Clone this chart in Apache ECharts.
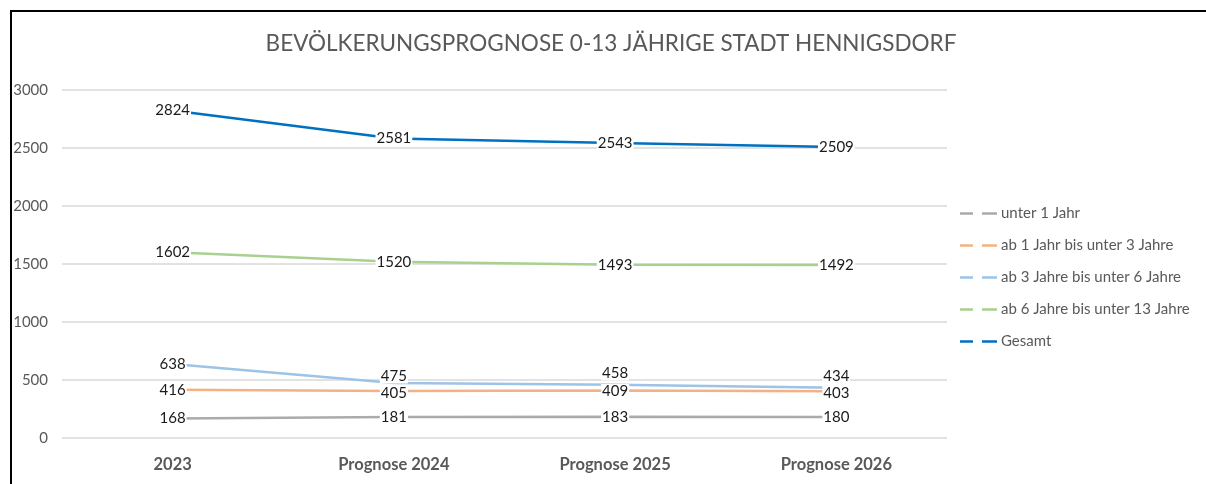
<!DOCTYPE html>
<html>
<head>
<meta charset="utf-8">
<script src="https://cdn.jsdelivr.net/npm/echarts@6/dist/echarts.min.js"></script>
<style>
  html, body { margin: 0; padding: 0; background: #fff; }
  #frame {
    position: absolute; left: 10px; top: 10px; width: 1196px; height: 474px;
    border-top: 2px solid #000; border-left: 2px solid #000; box-sizing: border-box;
  }
  #chart { position: absolute; left: 0; top: 0; width: 1206px; height: 484px; }
</style>
</head>
<body>
<div id="frame"></div>
<div id="chart"></div>
<script>
// chart data
const categories = ['2023', 'Prognose 2024', 'Prognose 2025', 'Prognose 2026'];
const seriesNames = [
  'unter 1 Jahr',
  'ab 1 Jahr bis unter 3 Jahre',
  'ab 3 Jahre bis unter 6 Jahre',
  'ab 6 Jahre bis unter 13 Jahre',
  'Gesamt'
];
const unter1 = [168, 181, 183, 180];
const ab1bis3 = [416, 405, 409, 403];
const ab3bis6 = [638, 475, 458, 434];
const ab6bis13 = [1602, 1520, 1493, 1492];
const gesamt = [2824, 2581, 2543, 2509];
const yTicks = [0, 500, 1000, 1500, 2000, 2500, 3000];

const colors = ['#ABABAB', '#F4B183', '#9DC3E6', '#A9D18E', '#0070C0'];
const FONT = 'Lato, "Open Sans", sans-serif';

// labels sit centred on the point; a few were nudged up/down by excel
function buildData(values, shifts) {
  return values.map((v, i) => ({
    value: v,
    label: { offset: [0, shifts ? shifts[i] : 0] }
  }));
}

function makeSeries(name, values, color, shifts) {
  return {
    name: name,
    type: 'line',
    data: buildData(values, shifts),
    symbol: 'circle',
    symbolSize: 1,
    itemStyle: { color: color },
    lineStyle: { color: color, width: 2.5 },
    emphasis: { disabled: true },
    label: {
      show: true,
      position: 'inside',
      color: '#1a1a1a',
      fontSize: 15,
      fontFamily: FONT,
      backgroundColor: '#fff',
      padding: [0, 1]
    }
  };
}

const chart = echarts.init(document.getElementById('chart'), null, { renderer: 'canvas' });

chart.setOption({
  animation: false,
  backgroundColor: 'transparent',
  title: {
    text: 'BEVÖLKERUNGSPROGNOSE 0-13 JÄHRIGE STADT HENNIGSDORF',
    left: 606,
    textAlign: 'center',
    top: 27,
    textStyle: { color: '#595959', fontSize: 22.5, fontWeight: 'normal', fontFamily: FONT }
  },
  legend: {
    orient: 'vertical',
    left: 955,
    top: 201,
    itemGap: 17,
    itemWidth: 37,
    itemHeight: 18,
    icon: 'path://M0,8h13v2.6h-13z M22,8h15v2.6h-15z',
    textStyle: { color: '#595959', fontSize: 15, fontFamily: FONT, padding: [0, 0, 0, -1] },
    data: seriesNames
  },
  grid: { left: 62, right: 259, top: 90, bottom: 46, containLabel: false },
  xAxis: {
    type: 'category',
    data: categories,
    boundaryGap: true,
    axisLine: { show: false },
    axisTick: { show: false },
    axisLabel: {
      color: '#595959', fontSize: 16.5, fontWeight: 'bold', fontFamily: FONT, margin: 18
    }
  },
  yAxis: {
    type: 'value',
    min: yTicks[0],
    max: yTicks[yTicks.length - 1],
    interval: 500,
    axisLine: { show: false },
    axisTick: { show: false },
    splitLine: { lineStyle: { color: '#D9D9D9', width: 1.5 } },
    axisLabel: {
      color: '#595959', fontSize: 15, fontFamily: FONT, margin: 14,
      formatter: v => String(v)
    }
  },
  series: [
    makeSeries(seriesNames[0], unter1, colors[0], [0, 0, 0, 0]),
    makeSeries(seriesNames[1], ab1bis3, colors[1], [0, 2, 1, 2]),
    makeSeries(seriesNames[2], ab3bis6, colors[2], [0, -7, -12, -11]),
    makeSeries(seriesNames[3], ab6bis13, colors[3], [0, 0, 0, 0]),
    makeSeries(seriesNames[4], gesamt, colors[4], [0, 0, 0, 0])
  ]
});
</script>
</body>
</html>
